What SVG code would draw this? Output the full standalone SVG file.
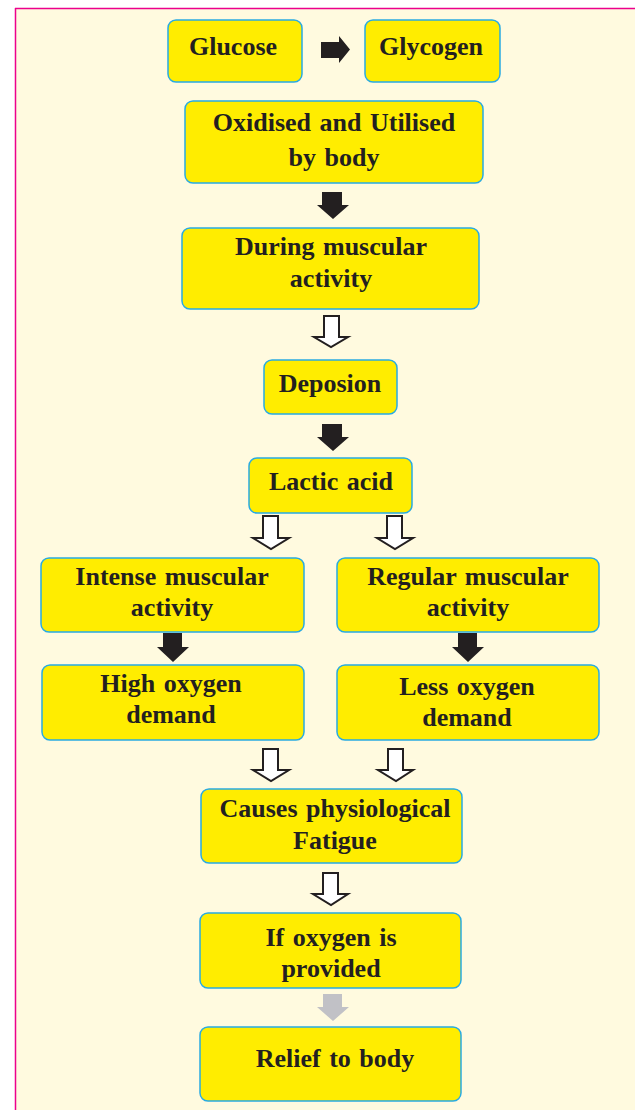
<svg xmlns="http://www.w3.org/2000/svg" width="635" height="1110" viewBox="0 0 635 1110">
<style>
.box{fill:#FFED00;stroke:#29ABE2;stroke-width:1.5}
.t{font-family:"Liberation Serif","Times New Roman",serif;font-weight:bold;font-size:26px;fill:#231F20;text-anchor:middle;word-spacing:2px}
.solid{fill:#231F20}
.hollow{fill:#FFFFFF;stroke:#231F20;stroke-width:2;stroke-linejoin:miter}
.gray{fill:#C1C1C6}
</style>
<rect x="0" y="0" width="635" height="1110" fill="#FFFFFF"/>
<rect x="16" y="9" width="619" height="1101" fill="#FFFADF"/>
<line x1="15" y1="8.5" x2="635" y2="8.5" stroke="#EC008C" stroke-width="1.5"/>
<line x1="15.5" y1="8" x2="15.5" y2="1110" stroke="#EC008C" stroke-width="1.5"/>

<g id="glucose"><rect class="box" x="168" y="20" width="134" height="62" rx="8"/><text class="t" x="233" y="55">Glucose</text></g>
<g id="glycogen"><rect class="box" x="365" y="20" width="135" height="62" rx="8"/><text class="t" x="431" y="55">Glycogen</text></g>
<g id="oxidised"><rect class="box" x="185" y="101" width="298" height="82" rx="8"/><text class="t" x="334" y="131">Oxidised and Utilised</text><text class="t" x="334" y="166">by body</text></g>
<g id="during"><rect class="box" x="182" y="228" width="297" height="81" rx="8"/><text class="t" x="331" y="255">During muscular</text><text class="t" x="331" y="287">activity</text></g>
<g id="deposion"><rect class="box" x="264" y="360" width="133" height="54" rx="8"/><text class="t" x="330" y="392">Deposion</text></g>
<g id="lactic"><rect class="box" x="249" y="458" width="163" height="55" rx="8"/><text class="t" x="331" y="490">Lactic acid</text></g>
<g id="intense"><rect class="box" x="41" y="558" width="263" height="74" rx="8"/><text class="t" x="172" y="585">Intense muscular</text><text class="t" x="172" y="616">activity</text></g>
<g id="regular"><rect class="box" x="337" y="558" width="262" height="74" rx="8"/><text class="t" x="468" y="585">Regular muscular</text><text class="t" x="468" y="616">activity</text></g>
<g id="high"><rect class="box" x="42" y="665" width="262" height="75" rx="8"/><text class="t" x="171" y="692">High oxygen</text><text class="t" x="171" y="723">demand</text></g>
<g id="less"><rect class="box" x="337" y="665" width="262" height="75" rx="8"/><text class="t" x="467" y="695">Less oxygen</text><text class="t" x="467" y="726">demand</text></g>
<g id="causes"><rect class="box" x="201" y="789" width="261" height="74" rx="8"/><text class="t" x="335" y="817">Causes physiological</text><text class="t" x="335" y="849">Fatigue</text></g>
<g id="ifoxygen"><rect class="box" x="200" y="913" width="261" height="75" rx="8"/><text class="t" x="331" y="946">If oxygen is</text><text class="t" x="331" y="977">provided</text></g>
<g id="relief"><rect class="box" x="200" y="1027" width="261" height="74" rx="8"/><text class="t" x="335" y="1067">Relief to body</text></g>

<g id="connectors">
<polygon class="solid" points="321,42 339,42 339,36 350,49.5 339,63 339,58 321,58"/>
<polygon class="solid" points="322,192 342,192 342,205 349,205 333,219 317,205 322,205"/>
<polygon class="hollow" points="324,316 339,316 339,337 348,337 331,347 314,337 324,337"/>
<polygon class="solid" points="322,424 342,424 342,437 349,437 333,451 317,437 322,437"/>
<polygon class="hollow" points="263,516 278,516 278,538 289,538 271,549 253,538 263,538"/>
<polygon class="hollow" points="387,516 402,516 402,538 413,538 395,549 377,538 387,538"/>
<polygon class="solid" points="163,633 182,633 182,647 189,647 173,662 157,647 163,647"/>
<polygon class="solid" points="458,633 477,633 477,647 484,647 468,662 452,647 458,647"/>
<polygon class="hollow" points="263,749 278,749 278,770 289,770 271,781 253,770 263,770"/>
<polygon class="hollow" points="388,749 403,749 403,770 413,770 396,781 378,770 388,770"/>
<polygon class="hollow" points="323,873 338,873 338,894 348,894 331,905 313,894 323,894"/>
<polygon class="gray" points="323,994 342,994 342,1007 349,1007 333,1021 317,1007 323,1007"/>
</g>
</svg>
